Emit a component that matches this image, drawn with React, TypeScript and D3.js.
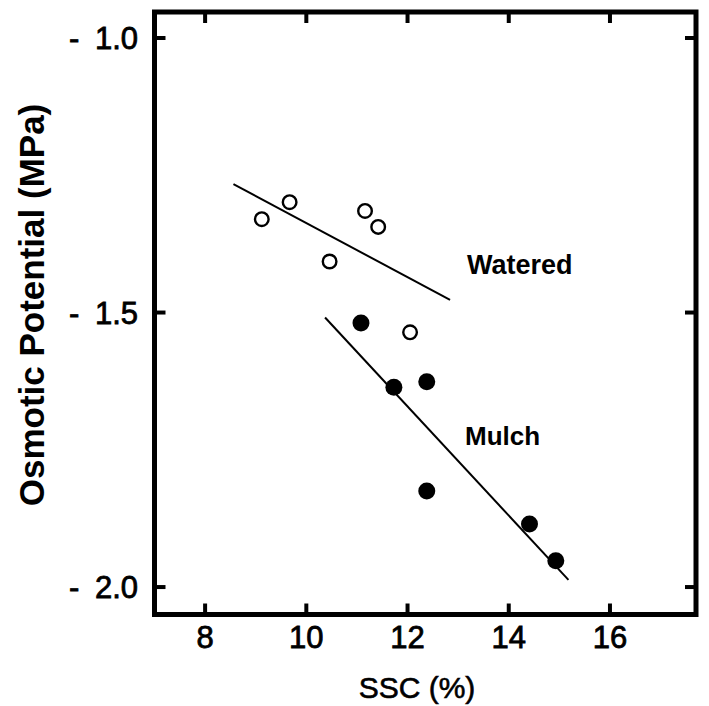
import * as d3 from "d3";
import { useEffect, useRef } from "react";

// SSC (%) vs osmotic potential (MPa)
const wateredSSC = [9.12, 9.67, 10.46, 11.16, 11.42, 12.05];
const wateredPot = [-1.33, -1.299, -1.407, -1.315, -1.344, -1.536];
const mulchSSC = [11.08, 11.73, 12.38, 12.38, 14.41, 14.93];
const mulchPot = [-1.519, -1.636, -1.626, -1.825, -1.885, -1.952];

// fitted lines, end points
const wateredFit: [number, number][] = [
  [8.56, -1.266],
  [12.84, -1.477],
];
const mulchFit: [number, number][] = [
  [10.37, -1.509],
  [15.18, -1.987],
];

const xTicks = [8, 10, 12, 14, 16];
const yTicks = [-1.0, -1.5, -2.0];

const W = 709;
const H = 706;
const FONT = "'Liberation Sans', Arial, Helvetica, sans-serif";

export default function App() {
  const ref = useRef<SVGSVGElement>(null);

  useEffect(() => {
    if (!ref.current) return;
    const svg = d3.select(ref.current);
    svg.selectAll("*").remove();

    const left = 154.5,
      right = 696,
      top = 12,
      bottom = 614.5;

    const x = d3.scaleLinear().domain([7, 17.7]).range([left, right]);
    const y = d3.scaleLinear().domain([-0.9526, -2.05]).range([top, bottom]);

    const line = d3
      .line<[number, number]>()
      .x((d) => x(d[0]))
      .y((d) => y(d[1]));

    // frame
    svg
      .append("rect")
      .attr("x", left)
      .attr("y", top)
      .attr("width", right - left)
      .attr("height", bottom - top)
      .attr("fill", "none")
      .attr("stroke", "#000")
      .attr("stroke-width", 5);

    const tickLen = 11;
    const tg = svg.append("g").attr("stroke", "#000").attr("stroke-width", 4);
    xTicks.forEach((t) => {
      tg.append("line")
        .attr("x1", x(t))
        .attr("x2", x(t))
        .attr("y1", bottom)
        .attr("y2", bottom - tickLen);
      tg.append("line")
        .attr("x1", x(t))
        .attr("x2", x(t))
        .attr("y1", top)
        .attr("y2", top + tickLen);
    });
    yTicks.forEach((t) => {
      tg.append("line")
        .attr("x1", left)
        .attr("x2", left + tickLen)
        .attr("y1", y(t))
        .attr("y2", y(t));
      tg.append("line")
        .attr("x1", right)
        .attr("x2", right - tickLen)
        .attr("y1", y(t))
        .attr("y2", y(t));
    });

    // tick labels (slightly heavier than regular, like the scan)
    svg
      .append("g")
      .selectAll("text")
      .data(xTicks)
      .join("text")
      .attr("x", (d) => x(d))
      .attr("y", 648)
      .attr("text-anchor", "middle")
      .attr("font-family", FONT)
      .attr("font-size", 31)
      .attr("stroke", "#000")
      .attr("stroke-width", 0.8)
      .text((d) => String(d));

    svg
      .append("g")
      .selectAll("text")
      .data(yTicks)
      .join("text")
      .attr("x", 138)
      .attr("y", (d) => y(d))
      .attr("dy", "0.36em")
      .attr("text-anchor", "end")
      .attr("font-family", FONT)
      .attr("font-size", 31)
      .attr("stroke", "#000")
      .attr("stroke-width", 0.8)
      .text((d) => "-\u2002" + Math.abs(d).toFixed(1));

    // axis titles
    svg
      .append("text")
      .attr("x", 417)
      .attr("y", 698)
      .attr("text-anchor", "middle")
      .attr("font-family", FONT)
      .attr("font-size", 30)
      .attr("stroke", "#000")
      .attr("stroke-width", 0.6)
      .text("SSC (%)");

    svg
      .append("text")
      .attr("transform", "translate(44,305) rotate(-90)")
      .attr("text-anchor", "middle")
      .attr("font-family", FONT)
      .attr("font-weight", "bold")
      .attr("font-size", 35)
      .text("Osmotic Potential (MPa)");

    // fit lines
    [wateredFit, mulchFit].forEach((seg) => {
      svg
        .append("path")
        .attr("d", line(seg))
        .attr("fill", "none")
        .attr("stroke", "#000")
        .attr("stroke-width", 2);
    });

    // points
    svg
      .append("g")
      .selectAll("circle")
      .data(d3.zip(wateredSSC, wateredPot))
      .join("circle")
      .attr("cx", (d) => x(d[0]))
      .attr("cy", (d) => y(d[1]))
      .attr("r", 6.8)
      .attr("fill", "#fff")
      .attr("stroke", "#000")
      .attr("stroke-width", 2.4);

    svg
      .append("g")
      .selectAll("circle")
      .data(d3.zip(mulchSSC, mulchPot))
      .join("circle")
      .attr("cx", (d) => x(d[0]))
      .attr("cy", (d) => y(d[1]))
      .attr("r", 8.5)
      .attr("fill", "#000");

    // series labels
    svg
      .append("text")
      .attr("x", 467)
      .attr("y", 274)
      .attr("font-family", FONT)
      .attr("font-weight", "bold")
      .attr("font-size", 27)
      .text("Watered");
    svg
      .append("text")
      .attr("x", 465)
      .attr("y", 445)
      .attr("font-family", FONT)
      .attr("font-weight", "bold")
      .attr("font-size", 26)
      .text("Mulch");
  }, []);

  return (
    <svg
      ref={ref}
      width={W}
      height={H}
      style={{ position: "fixed", left: 0, top: 0, background: "#fff" }}
    />
  );
}
